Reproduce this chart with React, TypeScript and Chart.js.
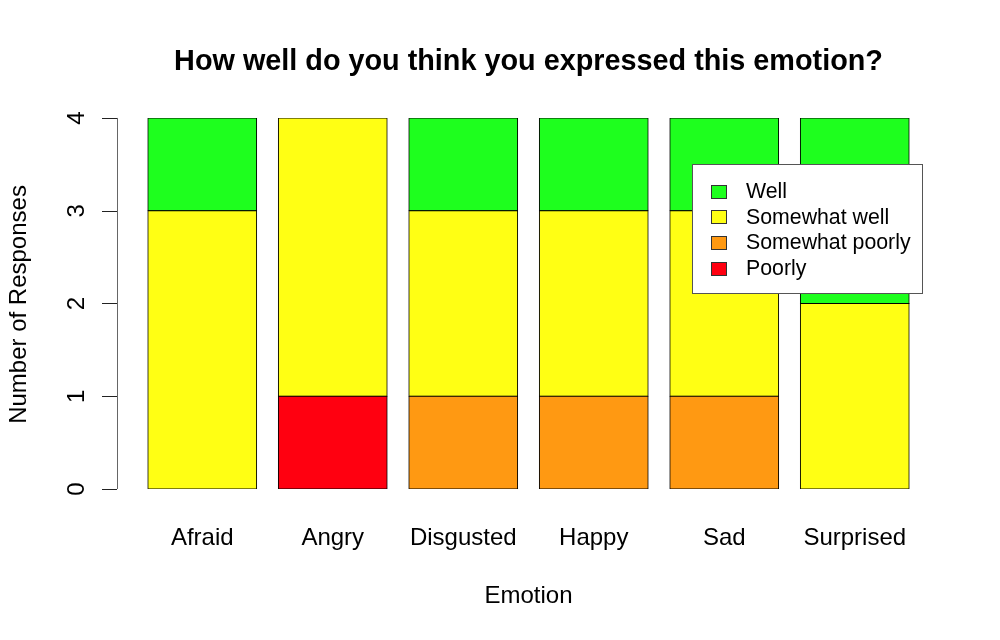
import React, { useEffect, useRef } from "react";
import { Chart, registerables } from "chart.js";

Chart.register(...registerables);

const categories = ["Afraid", "Angry", "Disgusted", "Happy", "Sad", "Surprised"];
const seriesNames = ["Poorly", "Somewhat poorly", "Somewhat well", "Well"];
const poorly = [0, 1, 0, 0, 0, 0];
const somewhatPoorly = [0, 0, 1, 1, 1, 0];
const somewhatWell = [3, 3, 2, 2, 2, 2];
const well = [1, 0, 1, 1, 1, 2];
const yTicks = [0, 1, 2, 3, 4];
const seriesColors = ["#FF0010", "#FF9912", "#FFFF14", "#1EFF1E"];

const titleText = "How well do you think you expressed this emotion?";
const xTitle = "Emotion";
const yTitle = "Number of Responses";
const FONT = "'Liberation Sans', Arial, Helvetica, sans-serif";

const rAxisPlugin = {
  id: "rAxis",
  afterDraw(chart: any) {
    const { ctx, chartArea, scales } = chart;
    const y = scales.y;
    const catW = chartArea.width / categories.length;
    const ax = Math.round(chartArea.left - 0.15 * catW);
    ctx.save();
    // axis line
    ctx.strokeStyle = "#666";
    ctx.lineWidth = 1;
    ctx.beginPath();
    ctx.moveTo(ax + 0.5, y.getPixelForValue(yTicks[0]));
    ctx.lineTo(ax + 0.5, y.getPixelForValue(yTicks[yTicks.length - 1]));
    ctx.stroke();
    // ticks
    ctx.strokeStyle = "#222";
    ctx.beginPath();
    yTicks.forEach((t) => {
      const py = Math.round(y.getPixelForValue(t)) + 0.5;
      ctx.moveTo(ax, py);
      ctx.lineTo(ax - 15, py);
    });
    ctx.stroke();
    // tick labels
    ctx.fillStyle = "#000";
    ctx.font = `24px ${FONT}`;
    ctx.textAlign = "center";
    ctx.textBaseline = "alphabetic";
    yTicks.forEach((t) => {
      const py = y.getPixelForValue(t);
      ctx.save();
      ctx.translate(84, py);
      ctx.rotate(-Math.PI / 2);
      ctx.fillText(String(t), 0, 0);
      ctx.restore();
    });
    // axis title
    ctx.save();
    ctx.translate(26, (chartArea.top + chartArea.bottom) / 2 + 1);
    ctx.rotate(-Math.PI / 2);
    ctx.fillText(yTitle, 0, 0);
    ctx.restore();

    // legend
    const bx = 692, by = 164, bw = 230, bh = 129;
    ctx.fillStyle = "#fff";
    ctx.fillRect(bx, by, bw, bh);
    ctx.strokeStyle = "#555";
    ctx.strokeRect(bx + 0.5, by + 0.5, bw, bh);
    ctx.font = `21.3px ${FONT}`;
    ctx.textAlign = "left";
    ctx.textBaseline = "middle";
    const order = [3, 2, 1, 0];
    order.forEach((si, i) => {
      const cy = 191 + i * 25.8;
      ctx.fillStyle = seriesColors[si];
      ctx.fillRect(711, Math.round(cy - 6.5), 15, 13);
      ctx.strokeStyle = "#333";
      ctx.strokeRect(711.5, Math.round(cy - 6.5) + 0.5, 15, 13);
      ctx.fillStyle = "#000";
      ctx.fillText(seriesNames[si], 746, cy + 1);
    });
    ctx.restore();
  },
};

export default function App() {
  const ref = useRef<HTMLCanvasElement | null>(null);
  useEffect(() => {
    if (!ref.current) return;
    const seriesValues = [poorly, somewhatPoorly, somewhatWell, well];
    const chart = new Chart(ref.current, {
      type: "bar",
      data: {
        labels: categories,
        datasets: seriesNames.map((name, i) => ({
          label: name,
          data: seriesValues[i],
          backgroundColor: seriesColors[i],
          borderColor: "#000",
          borderWidth: 1,
          borderSkipped: false,
          inflateAmount: 0.5,
          barPercentage: 1 / 1.2,
          categoryPercentage: 1,
        })),
      },
      options: {
        animation: false,
        responsive: false,
        maintainAspectRatio: false,
        layout: { padding: { left: 137, right: 80, top: 0, bottom: 0 } },
        plugins: {
          legend: { display: false },
          tooltip: { enabled: false },
          title: {
            display: true,
            text: titleText,
            color: "#000",
            font: { family: FONT, size: 28.8, weight: "bold" },
            padding: { top: 44.7, bottom: 38.7 },
          },
        },
        scales: {
          x: {
            stacked: true,
            grid: { display: false },
            border: { display: false },
            ticks: {
              color: "#000",
              font: { family: FONT, size: 24 },
              padding: 27,
              autoSkip: false,
              maxRotation: 0,
            },
            title: {
              display: true,
              text: xTitle,
              color: "#000",
              font: { family: FONT, size: 24 },
              padding: { top: 0, bottom: 29 },
            },
            afterFit: (s: any) => {
              s.height = 151;
            },
          },
          y: {
            stacked: true,
            display: false,
            min: 0,
            max: 4,
          },
        },
      },
      plugins: [rAxisPlugin],
    } as any);
    return () => chart.destroy();
  }, []);
  return (
    <div style={{ position: "fixed", left: 0, top: 0, width: 1000, height: 640, background: "#fff" }}>
      <canvas ref={ref} width={1000} height={640} style={{ display: "block" }} />
    </div>
  );
}
